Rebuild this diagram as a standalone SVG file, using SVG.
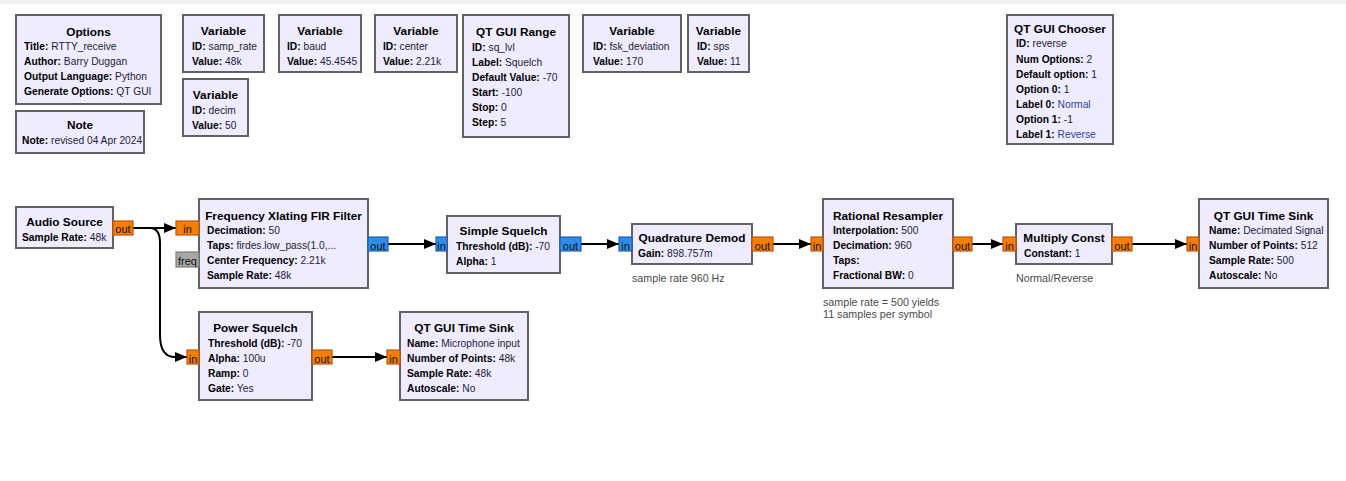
<svg xmlns="http://www.w3.org/2000/svg" width="1346" height="481" viewBox="0 0 1346 481">
<style>
text{font-family:"Liberation Sans",Arial,sans-serif}
.bk{fill:#f0ecff;stroke:#616161;stroke-width:2}
.t{font-size:11.8px;font-weight:bold;text-anchor:middle;fill:#000}
.l{font-size:10.25px;fill:#1c1c38}
.b{font-weight:bold;fill:#000}
.s{fill:#27489a}
.po{fill:#f57f00;stroke:#c2530f;stroke-width:1.2}
.pc{fill:#2e8de8;stroke:#1f60b4;stroke-width:1.2}
.pg{fill:#a8a8a8;stroke:#7c7c7c;stroke-width:1.2}
.pt{font-size:11px;text-anchor:middle;fill:#111}
.c{font-size:10.7px;fill:#4a4a4a}
.w{fill:none;stroke:#000;stroke-width:2}
</style>
<defs>
<marker id="ah" markerUnits="userSpaceOnUse" markerWidth="12" markerHeight="10" refX="12" refY="5" orient="auto">
<path d="M0,0 L12,5 L0,10 z" fill="#000"/>
</marker>
</defs>
<rect x="0" y="0" width="1346" height="481" fill="#fff"/>
<rect x="0" y="0" width="1346" height="4" fill="#f2f2f2"/>

<g id="options">
<rect class="bk" x="16" y="15" width="145" height="89"/>
<text class="t" x="88.5" y="36">Options</text>
<text class="l" x="24" y="50"><tspan class="b">Title:</tspan> RTTY_receive</text>
<text class="l" x="24" y="65"><tspan class="b">Author:</tspan> Barry Duggan</text>
<text class="l" x="24" y="80"><tspan class="b">Output Language:</tspan> Python</text>
<text class="l" x="24" y="95"><tspan class="b">Generate Options:</tspan> QT GUI</text>
</g>
<g id="note">
<rect class="bk" x="16" y="111" width="128" height="42"/>
<text class="t" x="80" y="129">Note</text>
<text class="l" x="22" y="144"><tspan class="b">Note:</tspan> revised 04 Apr 2024</text>
</g>
<g id="var_samp_rate">
<rect class="bk" x="183" y="15" width="81" height="57"/>
<text class="t" x="223.5" y="34.5">Variable</text>
<text class="l" x="192" y="50"><tspan class="b">ID:</tspan> samp_rate</text>
<text class="l" x="192" y="65"><tspan class="b">Value:</tspan> 48k</text>
</g>
<g id="var_decim">
<rect class="bk" x="183" y="79" width="65" height="57"/>
<text class="t" x="215.5" y="98.5">Variable</text>
<text class="l" x="192" y="113.5"><tspan class="b">ID:</tspan> decim</text>
<text class="l" x="192" y="128.5"><tspan class="b">Value:</tspan> 50</text>
</g>
<g id="var_baud">
<rect class="bk" x="279" y="15" width="82" height="57"/>
<text class="t" x="320" y="34.5">Variable</text>
<text class="l" x="287" y="50"><tspan class="b">ID:</tspan> baud</text>
<text class="l" x="287" y="65"><tspan class="b">Value:</tspan> 45.4545</text>
</g>
<g id="var_center">
<rect class="bk" x="375" y="15" width="82" height="57"/>
<text class="t" x="416" y="34.5">Variable</text>
<text class="l" x="383" y="50"><tspan class="b">ID:</tspan> center</text>
<text class="l" x="383" y="65"><tspan class="b">Value:</tspan> 2.21k</text>
</g>
<g id="qt_range">
<rect class="bk" x="463" y="15" width="106" height="122"/>
<text class="t" x="516" y="36">QT GUI Range</text>
<text class="l" x="472" y="50.5"><tspan class="b">ID:</tspan> sq_lvl</text>
<text class="l" x="472" y="65.5"><tspan class="b">Label:</tspan> Squelch</text>
<text class="l" x="472" y="80.5"><tspan class="b">Default Value:</tspan> -70</text>
<text class="l" x="472" y="95.5"><tspan class="b">Start:</tspan> -100</text>
<text class="l" x="472" y="110.5"><tspan class="b">Stop:</tspan> 0</text>
<text class="l" x="472" y="125.5"><tspan class="b">Step:</tspan> 5</text>
</g>
<g id="var_fsk_deviation">
<rect class="bk" x="583" y="15" width="98" height="57"/>
<text class="t" x="632" y="34.5">Variable</text>
<text class="l" x="593" y="50"><tspan class="b">ID:</tspan> fsk_deviation</text>
<text class="l" x="593" y="65"><tspan class="b">Value:</tspan> 170</text>
</g>
<g id="var_sps">
<rect class="bk" x="688" y="15" width="61" height="57"/>
<text class="t" x="718.5" y="34.5">Variable</text>
<text class="l" x="697" y="50"><tspan class="b">ID:</tspan> sps</text>
<text class="l" x="697" y="65"><tspan class="b">Value:</tspan> 11</text>
</g>
<g id="qt_chooser">
<rect class="bk" x="1007" y="15" width="106" height="129"/>
<text class="t" x="1060" y="33">QT GUI Chooser</text>
<text class="l" x="1016" y="47"><tspan class="b">ID:</tspan> reverse</text>
<text class="l" x="1016" y="62.5"><tspan class="b">Num Options:</tspan> 2</text>
<text class="l" x="1016" y="77.5"><tspan class="b">Default option:</tspan> 1</text>
<text class="l" x="1016" y="92.5"><tspan class="b">Option 0:</tspan> 1</text>
<text class="l" x="1016" y="107.5"><tspan class="b">Label 0:</tspan> <tspan class="s">Normal</tspan></text>
<text class="l" x="1016" y="122.5"><tspan class="b">Option 1:</tspan> -1</text>
<text class="l" x="1016" y="137.5"><tspan class="b">Label 1:</tspan> <tspan class="s">Reverse</tspan></text>
</g>

<g id="connectors">
<path class="w" d="M133,228 H176" marker-end="url(#ah)"/>
<path class="w" d="M133,228 H150 C157,228 160,234 160,243 V335 C160,350 165,357 175,357 H187" marker-end="url(#ah)"/>
<path class="w" d="M388,244 H436" marker-end="url(#ah)"/>
<path class="w" d="M581,244 H619" marker-end="url(#ah)"/>
<path class="w" d="M773,244 H811" marker-end="url(#ah)"/>
<path class="w" d="M972,244 H1003" marker-end="url(#ah)"/>
<path class="w" d="M1132,244 H1187" marker-end="url(#ah)"/>
<path class="w" d="M332,357 H387" marker-end="url(#ah)"/>
</g>

<g id="audio_source">
<rect class="bk" x="16" y="207" width="97" height="41"/>
<text class="t" x="64.5" y="225.5">Audio Source</text>
<text class="l" x="22" y="240.5"><tspan class="b">Sample Rate:</tspan> 48k</text>
<rect class="po" x="113" y="221" width="20" height="14"/>
<text class="pt" x="123" y="233">out</text>
</g>
<g id="freq_xlating_fir">
<rect class="bk" x="199" y="199" width="169" height="89"/>
<text class="t" x="283.5" y="219.5">Frequency Xlating FIR Filter</text>
<text class="l" x="207" y="234"><tspan class="b">Decimation:</tspan> 50</text>
<text class="l" x="207" y="249"><tspan class="b">Taps:</tspan> firdes.low_pass(1.0,...</text>
<text class="l" x="207" y="264"><tspan class="b">Center Frequency:</tspan> 2.21k</text>
<text class="l" x="207" y="279"><tspan class="b">Sample Rate:</tspan> 48k</text>
<rect class="po" x="176" y="221" width="23" height="14"/>
<text class="pt" x="187.5" y="233">in</text>
<rect class="pg" x="176" y="252" width="23" height="15"/>
<text class="pt" x="187.5" y="265">freq</text>
<rect class="pc" x="368" y="237" width="20" height="14"/>
<text class="pt" x="378" y="249.5">out</text>
</g>
<g id="simple_squelch">
<rect class="bk" x="447" y="216" width="113" height="57"/>
<text class="t" x="503.5" y="234.5">Simple Squelch</text>
<text class="l" x="456" y="249.5"><tspan class="b">Threshold (dB):</tspan> -70</text>
<text class="l" x="456" y="264.5"><tspan class="b">Alpha:</tspan> 1</text>
<rect class="pc" x="436" y="237" width="11" height="14"/>
<text class="pt" x="441.5" y="249.5">in</text>
<rect class="pc" x="560" y="237" width="21" height="14"/>
<text class="pt" x="570.5" y="249.5">out</text>
</g>
<g id="quadrature_demod">
<rect class="bk" x="632" y="224" width="120" height="40"/>
<text class="t" x="692" y="241.5">Quadrature Demod</text>
<text class="l" x="638" y="256.5"><tspan class="b">Gain:</tspan> 898.757m</text>
<rect class="pc" x="619" y="237" width="13" height="14"/>
<text class="pt" x="625.5" y="249.5">in</text>
<rect class="po" x="752" y="237" width="21" height="14"/>
<text class="pt" x="762.5" y="249.5">out</text>
<text class="c" x="632" y="282">sample rate 960 Hz</text>
</g>
<g id="rational_resampler">
<rect class="bk" x="823" y="199" width="130" height="89"/>
<text class="t" x="888" y="219.5">Rational Resampler</text>
<text class="l" x="833" y="234"><tspan class="b">Interpolation:</tspan> 500</text>
<text class="l" x="833" y="249"><tspan class="b">Decimation:</tspan> 960</text>
<text class="l" x="833" y="264"><tspan class="b">Taps:</tspan></text>
<text class="l" x="833" y="279"><tspan class="b">Fractional BW:</tspan> 0</text>
<rect class="po" x="811" y="237" width="12" height="14"/>
<text class="pt" x="817" y="249.5">in</text>
<rect class="po" x="953" y="237" width="19" height="14"/>
<text class="pt" x="962.5" y="249.5">out</text>
<text class="c" x="823" y="306">sample rate = 500 yields</text>
<text class="c" x="823" y="318">11 samples per symbol</text>
</g>
<g id="multiply_const">
<rect class="bk" x="1016" y="224" width="96" height="40"/>
<text class="t" x="1064" y="241.5">Multiply Const</text>
<text class="l" x="1024" y="256.5"><tspan class="b">Constant:</tspan> 1</text>
<rect class="po" x="1003" y="237" width="13" height="14"/>
<text class="pt" x="1009.5" y="249.5">in</text>
<rect class="po" x="1112" y="237" width="20" height="14"/>
<text class="pt" x="1122" y="249.5">out</text>
<text class="c" x="1016" y="282">Normal/Reverse</text>
</g>
<g id="qt_time_sink_decimated">
<rect class="bk" x="1199" y="199" width="129" height="89"/>
<text class="t" x="1263.5" y="219.5">QT GUI Time Sink</text>
<text class="l" x="1209" y="234"><tspan class="b">Name:</tspan> Decimated Signal</text>
<text class="l" x="1209" y="249"><tspan class="b">Number of Points:</tspan> 512</text>
<text class="l" x="1209" y="264"><tspan class="b">Sample Rate:</tspan> 500</text>
<text class="l" x="1209" y="279"><tspan class="b">Autoscale:</tspan> No</text>
<rect class="po" x="1187" y="237" width="12" height="14"/>
<text class="pt" x="1193" y="249.5">in</text>
</g>
<g id="power_squelch">
<rect class="bk" x="199" y="312" width="113" height="88"/>
<text class="t" x="255.5" y="331.5">Power Squelch</text>
<text class="l" x="208" y="346.5"><tspan class="b">Threshold (dB):</tspan> -70</text>
<text class="l" x="208" y="361.5"><tspan class="b">Alpha:</tspan> 100u</text>
<text class="l" x="208" y="376.5"><tspan class="b">Ramp:</tspan> 0</text>
<text class="l" x="208" y="391.5"><tspan class="b">Gate:</tspan> Yes</text>
<rect class="po" x="187" y="350" width="12" height="14"/>
<text class="pt" x="193" y="362.5">in</text>
<rect class="po" x="312" y="350" width="20" height="14"/>
<text class="pt" x="322" y="362.5">out</text>
</g>
<g id="qt_time_sink_mic">
<rect class="bk" x="400" y="312" width="128" height="88"/>
<text class="t" x="464" y="331.5">QT GUI Time Sink</text>
<text class="l" x="407" y="346.5"><tspan class="b">Name:</tspan> Microphone input</text>
<text class="l" x="407" y="361.5"><tspan class="b">Number of Points:</tspan> 48k</text>
<text class="l" x="407" y="376.5"><tspan class="b">Sample Rate:</tspan> 48k</text>
<text class="l" x="407" y="391.5"><tspan class="b">Autoscale:</tspan> No</text>
<rect class="po" x="387" y="350" width="13" height="14"/>
<text class="pt" x="393.5" y="362.5">in</text>
</g>
</svg>
